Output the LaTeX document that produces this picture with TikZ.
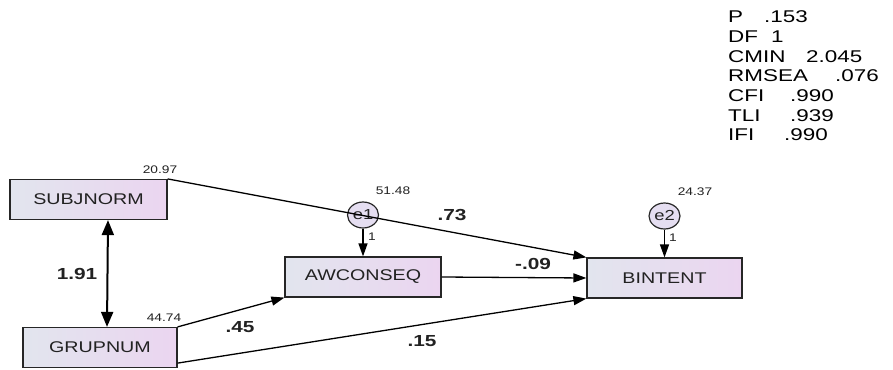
\documentclass[tikz,border=0pt]{standalone}
\usepackage{fontspec}
\setmainfont{Liberation Sans}
\newfontfamily\boxfont[FakeStretch=1.27]{Liberation Sans}
\newfontfamily\fitfont[FakeStretch=1.32]{Liberation Sans}
\newfontfamily\coeffont[FakeStretch=1.3]{Liberation Sans Bold}
\newfontfamily\varfont[FakeStretch=1.25]{Liberation Sans}
\usetikzlibrary{arrows.meta,shapes.geometric}
\definecolor{boxleft}{HTML}{E2E5EE}
\definecolor{boxright}{HTML}{EBD5F0}
\definecolor{errfill}{HTML}{E5DEF1}
\definecolor{txt}{HTML}{222222}
\tikzset{
  varbox/.style={draw=black!85, line width=1.2pt, left color=boxleft, right color=boxright,
    minimum height=40pt, inner sep=0pt, text=txt, font=\boxfont\fontsize{15.5}{18}\selectfont},
  errnode/.style={ellipse, draw=black!85, line width=1.2pt, fill=errfill, minimum width=31pt,
    minimum height=26pt, inner sep=0pt, text=txt, font=\boxfont\fontsize{14.5}{16}\selectfont},
  path/.style={line width=1.3pt, -{Triangle[length=13pt,width=9pt]}},
  covpath/.style={line width=2pt, {Triangle[length=15pt,width=12pt]}-{Triangle[length=15pt,width=12pt]}},
  coef/.style={font=\coeffont\fontsize{16}{18}\selectfont, text=txt, inner sep=0pt},
  varlbl/.style={font=\varfont\fontsize{11}{12}\selectfont, text=txt, inner sep=0pt},
  onelbl/.style={font=\varfont\fontsize{11}{12}\selectfont, text=txt, inner sep=0pt},
  fitline/.style={font=\fitfont\fontsize{17}{19}\selectfont, text=black, inner sep=0pt, anchor=base west}
}
\begin{document}
\begin{tikzpicture}[x=1pt,y=-1pt]
\useasboundingbox[fill=white] (0,0) rectangle (893,369);
% variables
\node[varbox, minimum width=157pt] (subj) at (88.5,199.5) {SUBJNORM};
\node[varbox, minimum width=154pt] (grup) at (100,347.5) {GRUPNUM};
\node[varbox, minimum width=156pt] (awc) at (363,277) {AWCONSEQ};
\node[varbox, minimum width=155pt] (bint) at (664.5,278) {BINTENT};
\node[errnode] (e1) at (363,215) {e1};
\node[errnode] (e2) at (664.5,216) {e2};
% paths
\draw[path] (subj.north east) -- (bint.north west);
\draw[path] (grup.north east) -- (awc.south west);
\draw[path] ([yshift=5pt]grup.south east) -- (bint.south west);
\draw[path] (awc.east) -- (bint.west);
\draw[path] (e1.south) -- (awc.north);
\draw[path] (e2.south) -- (bint.north);
\draw[covpath] ([xshift=19.5pt]subj.south) -- ([xshift=7pt]grup.north);
% variances
\node[varlbl] (v1) at (160,170) {20.97};
\node[varlbl] (v2) at (164,318) {44.74};
\node[varlbl] (v3) at (393,191) {51.48};
\node[varlbl] (v4) at (695,192) {24.37};
\node[onelbl] (o1) at (372,237) {1};
\node[onelbl] (o2) at (673,238) {1};
% coefficients
\node[coef] (c1) at (77,274) {1.91};
\node[coef] (c2) at (452,215) {.73};
\node[coef] (c3) at (533,264) {-.09};
\node[coef] (c4) at (240,327) {.45};
\node[coef] (c5) at (422,341) {.15};
% fit indices
\node[fitline] (f1) at (728,23) {P};
\node[fitline] (g1) at (764,23) {.153};
\node[fitline] (f2) at (728,42.6) {DF};
\node[fitline] (g2) at (771,42.6) {1};
\node[fitline] (f3) at (728,62.2) {CMIN};
\node[fitline] (g3) at (806,62.2) {2.045};
\node[fitline] (f4) at (728,81.8) {RMSEA};
\node[fitline] (g4) at (835,81.8) {.076};
\node[fitline] (f5) at (728,101.4) {CFI};
\node[fitline] (g5) at (790,101.4) {.990};
\node[fitline] (f6) at (728,121) {TLI};
\node[fitline] (g6) at (790,121) {.939};
\node[fitline] (f7) at (728,140.6) {IFI};
\node[fitline] (g7) at (784,140.6) {.990};
\end{tikzpicture}
\end{document}
